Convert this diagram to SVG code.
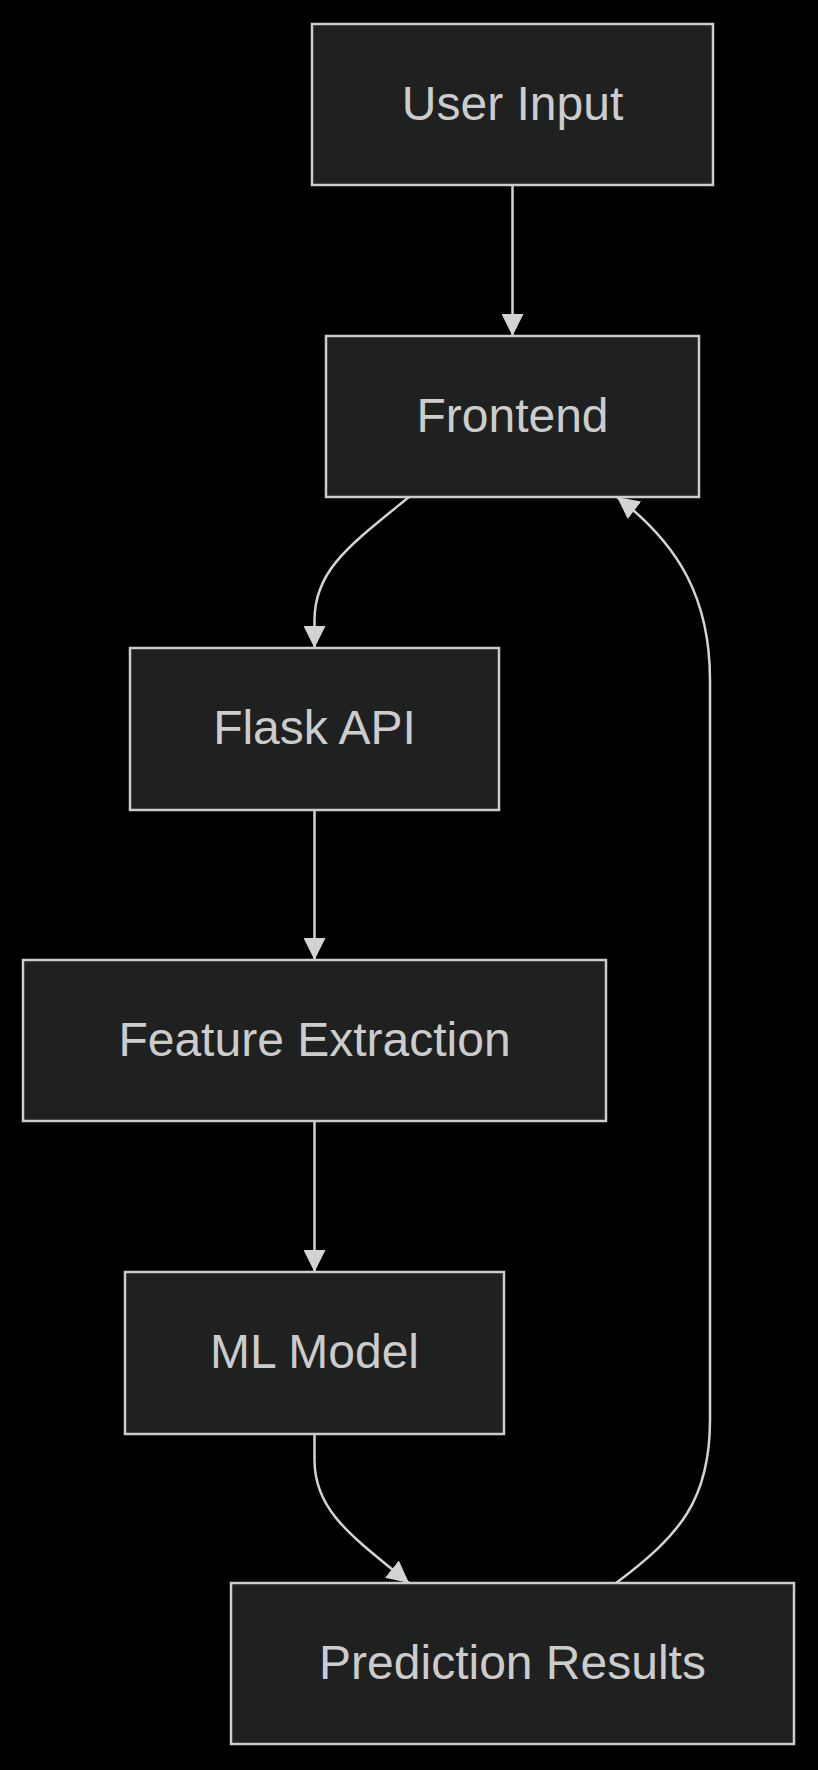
<svg xmlns="http://www.w3.org/2000/svg" width="818" height="1770" viewBox="0 0 818 1770">
<style>
.node rect{fill:#1f2020;stroke:#cccccc;stroke-width:2.5}
.node text{fill:#cccccc;font-family:"Liberation Sans",Arial,sans-serif;font-size:48px;text-anchor:middle}
.edge{fill:none;stroke:#d3d3d3;stroke-width:2.5}
</style>
<defs>
<marker id="arrow" viewBox="0 0 10 10" refX="10" refY="5" markerUnits="userSpaceOnUse" markerWidth="22" markerHeight="22" orient="auto">
<path d="M0,0 L10,5 L0,10 z" fill="#d3d3d3"/>
</marker>
</defs>
<rect x="0" y="0" width="818" height="1770" fill="#000000"/>
<g id="connectors">
<path class="edge" d="M512.5,185 L512.5,336" marker-end="url(#arrow)"/>
<path class="edge" d="M409,497 C350,545 314.5,570 314.5,620 L314.5,648" marker-end="url(#arrow)"/>
<path class="edge" d="M314.5,810 L314.5,960" marker-end="url(#arrow)"/>
<path class="edge" d="M314.5,1121 L314.5,1272" marker-end="url(#arrow)"/>
<path class="edge" d="M314.5,1434 L314.5,1460 C314.5,1510 350,1535 409,1583" marker-end="url(#arrow)"/>
<path class="edge" d="M616,1583 C680,1535 710,1500 710,1420 L710,680 C710,600 680,545 617,497" marker-end="url(#arrow)"/>
</g>
<g id="user-input" class="node"><rect x="312" y="24" width="401" height="161"/><text x="512.5" y="119.5">User Input</text></g>
<g id="frontend" class="node"><rect x="326" y="336" width="373" height="161"/><text x="512.5" y="431.5">Frontend</text></g>
<g id="flask-api" class="node"><rect x="130" y="648" width="369" height="162"/><text x="314.5" y="744">Flask API</text></g>
<g id="feature-extraction" class="node"><rect x="23" y="960" width="583" height="161"/><text x="314.5" y="1055.5">Feature Extraction</text></g>
<g id="ml-model" class="node"><rect x="125" y="1272" width="379" height="162"/><text x="314.5" y="1368">ML Model</text></g>
<g id="prediction-results" class="node"><rect x="231" y="1583" width="563" height="161"/><text x="512.5" y="1678.5">Prediction Results</text></g>
</svg>
